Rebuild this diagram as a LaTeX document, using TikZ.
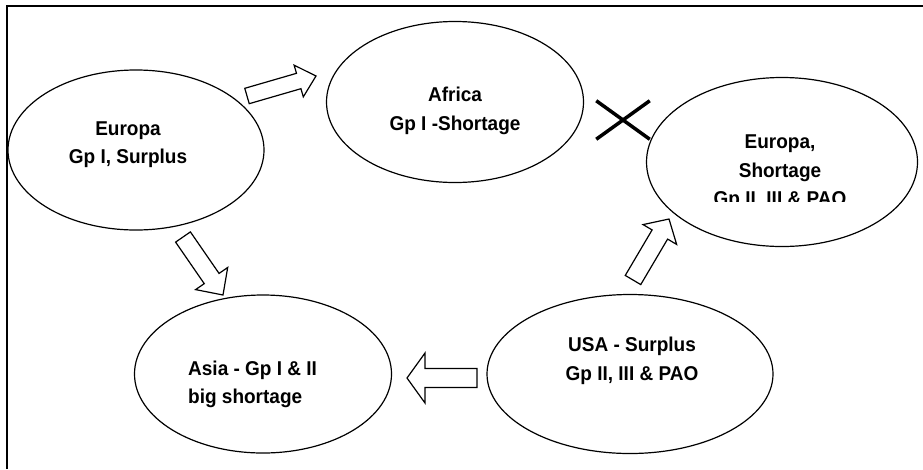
\documentclass[tikz,border=0pt]{standalone}
\usepackage{fontspec}
\setmainfont{Liberation Sans}
\newfontfamily\lblfont[FakeStretch=0.95]{Liberation Sans}
\usetikzlibrary{calc,shapes.geometric,shapes.misc}
\newcommand\blkarrow[5]{% tail, tip, half shaft, half head, head length
  \coordinate (ba-n) at ($(#2)!#5!(#1)$);
  \draw[blkarrow] ($(#1)!#3!90:(#2)$) -- ($(ba-n)!#3!90:(#2)$) -- ($(ba-n)!#4!90:(#2)$)
    -- (#2) -- ($(ba-n)!#4!-90:(#2)$) -- ($(ba-n)!#3!-90:(#2)$) -- ($(#1)!#3!-90:(#2)$) -- cycle;
}
\begin{document}
\begin{tikzpicture}[x=1pt,y=-1pt,
  region/.style={draw, ellipse, line width=1.2pt, inner sep=0pt, fill=white},
  label/.style={font=\lblfont\bfseries\fontsize{20pt}{28.5pt}\selectfont, align=center, inner sep=0pt},
  blkarrow/.style={draw, line width=1.2pt, fill=white, line join=miter},
  frameline/.style={line width=2pt}]
\useasboundingbox (0,0) rectangle (923,469);
\fill[white] (0,0) rectangle (923,469);
\draw[frameline] (7,469) -- (7,6) -- (923,6);

\node[region, minimum width=256pt, minimum height=160pt] (eul) at (136,150) {};
\node[region, minimum width=257pt, minimum height=161pt] (afr) at (455,102) {};
\node[region, minimum width=271pt, minimum height=169pt] (eur) at (782,162) {};
\node[region, minimum width=257pt, minimum height=158pt] (asia) at (263,374) {};
\node[region, minimum width=286pt, minimum height=159pt] (usa) at (630,374) {};

\node[label] (teul) at (128,144.5) {Europa\\Gp I, Surplus};
\node[label] (tafr) at (455,111) {Africa\\Gp I -Shortage};
\begin{scope}
  \clip (600,120) rectangle (923,201.5);
  \node[label] (teur) at (780,172.3) {Europa,\\Shortage\\Gp II, III \& PAO};
\end{scope}
\node[label, align=left, anchor=west] (tasia) at (188,384.2) {Asia - Gp I \& II\\big shortage};
\node[label] (tusa) at (632,361) {USA - Surplus\\Gp II, III \& PAO};

\node[draw, cross out, line width=3.5pt, minimum width=50pt, minimum height=35pt, inner sep=0pt] (nox) at (623,120) {};

\coordinate (t1) at (247,96);  \coordinate (p1) at (316,76);
\coordinate (t2) at (183,237); \coordinate (p2) at (223,295);
\coordinate (t3) at (633,280); \coordinate (p3) at (669,219);
\coordinate (t4) at (477,378); \coordinate (p4) at (407,378);
\blkarrow{t1}{p1}{8pt}{16.5pt}{18pt}
\blkarrow{t2}{p2}{9pt}{19.5pt}{20pt}
\blkarrow{t3}{p3}{9pt}{19.5pt}{18pt}
\blkarrow{t4}{p4}{9.5pt}{25pt}{18pt}
\end{tikzpicture}
\end{document}
